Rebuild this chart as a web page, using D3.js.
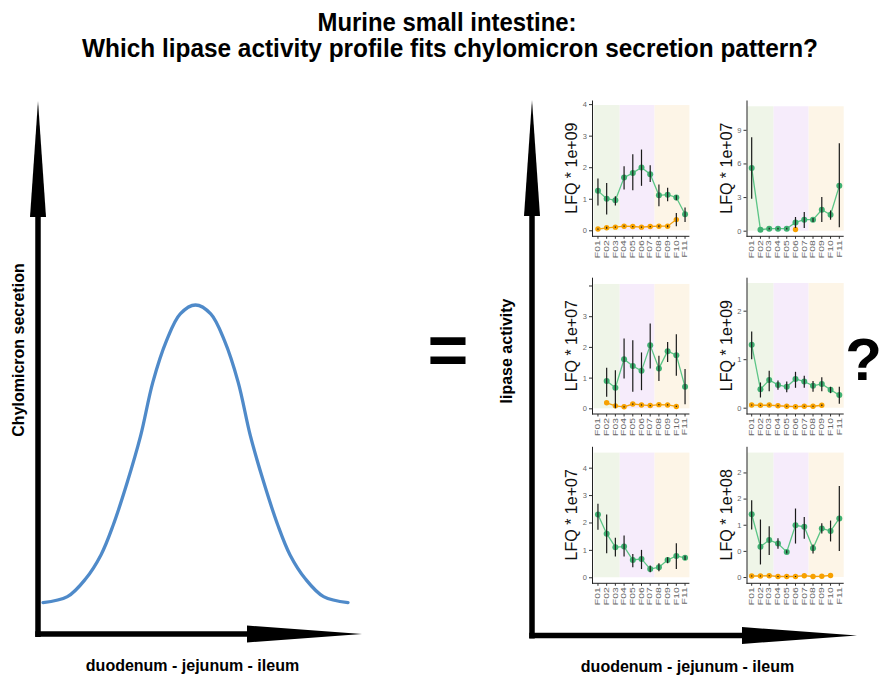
<!DOCTYPE html>
<meta charset="utf-8">
<style>

body {
    margin: 0;
    background: #fff;
}

svg {
    font-family: "Liberation Sans", Arial, Helvetica, sans-serif;
}

.title {
    font-family: "Liberation Sans Narrow", "Arial Narrow", "Liberation Sans", Arial, sans-serif;
    font-weight: bold;
    font-size: 25px;
}

.big-label {
    font-weight: bold;
    font-size: 16px;
}

.panel .domain {
    stroke: #222;
}

.panel .tick line {
    stroke: #333;
}

.panel .tick text {
    fill: #666;
}

</style>
<body>
<svg width="883" height="675"></svg>

<script src="https://d3js.org/d3.v7.min.js"></script>
<script>

// fractions along the gut, F01 = duodenum ... F11 = ileum
var fractions = ["F01","F02","F03","F04","F05","F06","F07","F08","F09","F10","F11"];
var regionStart = ["F01","F04","F08"];
var regionEnd   = ["F03","F07","F11"];

// schematic chylomicron curve (position along gut %, secretion %)
var gutPosition    = [0, 8, 14, 19, 23, 27.5, 32, 36, 40.5, 45, 50, 55, 59.5, 64, 68, 72.5, 77, 81, 86, 92, 100];
var secretionLevel = [0, 2,  8, 16, 26, 40,   56, 74, 88,   97, 100, 97, 88,  74, 56, 40,  26, 16, 8,  2,  0];

// one entry per small panel (top-left, top-right, mid-left, ...)
var panelExponent = ["1e+09", "1e+07", "1e+07", "1e+09", "1e+07", "1e+08"];
var panelYMin     = [-0.19, -0.5, -0.185, -0.13, -0.22, -0.12];
var panelYMax     = [4.13, 11.66, 4.27, 2.69, 4.78, 2.5];
var panelShadeTop = [3.97, 11.1, 4.05, 2.57, 4.55, 2.38];
var panelTicks = [[0,1,2,3,4], [0,3,6,9], [0,1,2,3,4], [0,1,2], [0,1,2,3,4], [0,0.5,1,1.5,2]];
var panelTickLabels = [["0","1","2","3","4"], ["0","3","6","9"], ["0","1","2","3",""],
                       ["0","1","2"], ["0","1","2","3","4"], ["0","0","1","2","2"]];

// [mean, low, high] per fraction, null = not detected
var p1Green  = [[1.25,0.79,1.64],[1.0,0.5,1.5],[0.95,0.79,1.08],[1.67,1.29,2.03],[1.82,1.27,2.41],[1.99,1.41,2.56],
                [1.78,1.53,2.06],[1.11,0.76,1.45],[1.13,0.92,1.35],[1.04,0.95,1.11],[0.51,0.26,0.72]];
var p1Orange = [[0.04,0.02,0.06],[0.08,0.05,0.11],[0.1,0.08,0.12],[0.13,0.11,0.15],[0.12,0.1,0.14],[0.1,0.08,0.12],
                [0.12,0.1,0.14],[0.13,0.1,0.16],[0.13,0.1,0.16],[0.34,0.13,0.55],null];

var p2Green  = [[5.6,2.85,8.34],[0.09,0.09,0.09],[0.18,0.1,0.26],[0.18,0.1,0.26],[0.18,0.1,0.26],[0.74,0.24,1.22],
                [0.98,0.24,1.66],[0.98,0.77,1.13],[1.87,0.77,3.0],[1.42,0.98,1.81],[4.0,0.3,7.8]];
var p2Orange = [null,null,null,null,null,[0.1,0.1,0.1],null,null,null,null,null];

var p3Green  = [null,[0.89,0.38,1.32],[0.67,0.0,1.24],[1.6,0.97,2.27],[1.38,0.54,2.22],[1.22,0.59,1.82],
                [2.05,1.3,2.76],[1.3,0.89,1.71],[1.86,1.51,2.16],[1.73,1.06,2.41],[0.7,0.13,1.28]];
var p3Orange = [null,[0.18,0.18,0.18],[0.08,0.06,0.1],[0.05,0.03,0.07],[0.14,0.12,0.16],[0.11,0.09,0.13],
                [0.09,0.07,0.11],[0.12,0.1,0.14],[0.11,0.09,0.13],[0.06,0.04,0.08],null];

var p4Green  = [[1.3,1.0,1.57],[0.38,0.21,0.52],[0.57,0.34,0.76],[0.47,0.37,0.56],[0.43,0.32,0.54],[0.59,0.41,0.74],
                [0.54,0.41,0.66],[0.45,0.33,0.55],[0.49,0.34,0.63],[0.37,0.3,0.43],[0.26,0.08,0.43]];
var p4Orange = [[0.055,0.045,0.065],[0.05,0.04,0.06],[0.055,0.045,0.065],[0.04,0.03,0.05],[0.03,0.02,0.04],
                [0.02,0.01,0.03],[0.03,0.02,0.04],[0.03,0.02,0.04],[0.05,0.035,0.065],null,null];

var p5Green  = [[2.29,1.73,2.68],[1.59,0.88,2.29],[1.1,0.76,1.44],[1.12,0.76,1.52],[0.63,0.37,0.85],[0.67,0.3,1.0],
                [0.3,0.18,0.43],[0.37,0.22,0.51],[0.63,0.51,0.73],[0.78,0.3,1.24],[0.71,0.63,0.79]];
var p5Orange = [null,null,null,null,null,null,null,null,null,null,null];

var p6Green  = [[1.2,0.91,1.47],[0.58,0.24,1.1],[0.71,0.42,0.97],[0.64,0.54,0.74],[0.48,0.45,0.51],[0.99,0.64,1.31],
                [0.96,0.73,1.15],[0.55,0.45,0.62],[0.93,0.83,1.03],[0.88,0.68,1.08],[1.12,0.5,1.74]];
var p6Orange = [[0.02,0.01,0.03],[0.02,0.01,0.03],[0.025,0.015,0.035],[0.01,0.0,0.02],[0.01,0.0,0.02],
                [0.01,0.0,0.02],[0.025,0.025,0.025],[0.01,0.01,0.01],[0.015,0.015,0.015],[0.03,0.03,0.03],null];

var greenSeries  = [p1Green, p2Green, p3Green, p4Green, p5Green, p6Green];
var orangeSeries = [p1Orange, p2Orange, p3Orange, p4Orange, p5Orange, p6Orange];

var regionColor = ["#eff5e8", "#f6ecfb", "#fdf5e7"];
var seriesStyle = {
    green:  { line: "#5cc586", point: "#3fb072", r: 3 },
    orange: { line: "#f5a30c", point: "#f7a100", r: 2.7 }
};

var svg = d3.select("svg");

/********************************
 * TITLE
 ********************************/
svg.append("text").attr("class", "title")
    .attr("x", 447).attr("y", 31)
    .attr("text-anchor", "middle")
    .attr("textLength", 259).attr("lengthAdjust", "spacingAndGlyphs")
    .text("Murine small intestine:");

svg.append("text").attr("class", "title")
    .attr("x", 450).attr("y", 57)
    .attr("text-anchor", "middle")
    .attr("textLength", 736).attr("lengthAdjust", "spacingAndGlyphs")
    .text("Which lipase activity profile fits chylomicron secretion pattern?");

/********************************
 * ARROW AXES
 ********************************/
function arrow(x0, y0, x1, y1, headLen, headHalf, width) {
    var len = Math.hypot(x1 - x0, y1 - y0),
        ux = (x1 - x0) / len, uy = (y1 - y0) / len,
        bx = x1 - ux * headLen, by = y1 - uy * headLen;
    svg.append("line")
        .attr("x1", x0).attr("y1", y0)
        .attr("x2", bx + ux).attr("y2", by + uy)
        .attr("stroke", "#000").attr("stroke-width", width);
    svg.append("path")
        .attr("d", "M" + x1 + "," + y1 +
                   "L" + (bx - uy * headHalf) + "," + (by + ux * headHalf) +
                   "L" + (bx + uy * headHalf) + "," + (by - ux * headHalf) + "Z")
        .attr("fill", "#000");
}

// left: chylomicron schematic
arrow(38, 637, 38, 101, 116, 8, 5.5);
arrow(35.25, 634, 362, 634, 115, 8.5, 5.5);
// right: lipase activity
arrow(532, 638.5, 532, 100, 116, 8, 5.5);
arrow(529.25, 635.5, 857, 635.5, 115, 8.5, 5.5);

svg.append("text").attr("class", "big-label")
    .attr("transform", "translate(24,350) rotate(-90)")
    .attr("text-anchor", "middle")
    .text("Chylomicron secretion");

svg.append("text").attr("class", "big-label")
    .attr("transform", "translate(512,351) rotate(-90)")
    .attr("text-anchor", "middle")
    .text("lipase activity");

svg.append("text").attr("class", "big-label")
    .attr("x", 192.5).attr("y", 671)
    .attr("text-anchor", "middle")
    .text("duodenum - jejunum - ileum");

svg.append("text").attr("class", "big-label")
    .attr("x", 687.5).attr("y", 672)
    .attr("text-anchor", "middle")
    .text("duodenum - jejunum - ileum");

svg.append("text")
    .attr("x", 448).attr("y", 374)
    .attr("text-anchor", "middle")
    .style("font-weight", "bold").style("font-size", "70px")
    .text("=");

svg.append("text")
    .attr("x", 882).attr("y", 380)
    .attr("text-anchor", "end")
    .style("font-weight", "bold").style("font-size", "60px")
    .text("?");

/********************************
 * SCHEMATIC CURVE
 ********************************/
var cx = d3.scaleLinear().domain([0, 100]).range([43, 348]),
    cy = d3.scaleLinear().domain([0, 100]).range([602.6, 305]);

svg.append("path")
    .datum(d3.range(gutPosition.length))
    .attr("fill", "none")
    .attr("stroke", "#4f8ac9")
    .attr("stroke-width", 3.3)
    .attr("stroke-linecap", "round")
    .attr("d", d3.line()
        .curve(d3.curveCatmullRom)
        .x(function(i) { return cx(gutPosition[i]); })
        .y(function(i) { return cy(secretionLevel[i]); }));

/********************************
 * SMALL PANELS
 ********************************/
var colAxisX = [592, 746.5],
    colBand  = [[593.6, 689.4], [747.3, 843.7]],
    rowRange = [[236.3, 100], [414, 277.2], [583.3, 446.3]];

greenSeries.forEach(function(green, i) {
    var col = i % 2, row = Math.floor(i / 2);

    var x = d3.scaleBand().domain(fractions).range(colBand[col]);
    var y = d3.scaleLinear().domain([panelYMin[i], panelYMax[i]]).range(rowRange[row]);
    var cxp = function(f) { return x(f) + x.bandwidth() / 2; };

    var g = svg.append("g").attr("class", "panel");

    // gut region shading
    g.selectAll("rect")
        .data(d3.range(regionStart.length))
        .enter().append("rect")
        .attr("x", function(r) { return x(regionStart[r]); })
        .attr("width", function(r) { return x(regionEnd[r]) + x.bandwidth() - x(regionStart[r]); })
        .attr("y", y(panelShadeTop[i]))
        .attr("height", y(0) - y(panelShadeTop[i]))
        .attr("fill", function(r) { return regionColor[r]; });

    var layers = [["green", green], ["orange", orangeSeries[i]]];

    layers.forEach(function(layer) {
        var st = seriesStyle[layer[0]];
        var pts = layer[1].map(function(d, j) {
            return d ? { f: fractions[j], m: d[0], lo: d[1], hi: d[2] } : null;
        });
        g.append("path")
            .datum(pts)
            .attr("fill", "none")
            .attr("stroke", st.line)
            .attr("stroke-width", 1.3)
            .attr("d", d3.line()
                .defined(function(d) { return d; })
                .x(function(d) { return cxp(d.f); })
                .y(function(d) { return y(d.m); }));
        g.append("g").selectAll("circle")
            .data(pts.filter(function(d) { return d; }))
            .enter().append("circle")
            .attr("cx", function(d) { return cxp(d.f); })
            .attr("cy", function(d) { return y(d.m); })
            .attr("r", st.r)
            .attr("fill", st.point);
    });

    // error bars on top
    layers.forEach(function(layer) {
        g.append("g").selectAll("line")
            .data(layer[1].map(function(d, j) { return d ? { f: fractions[j], lo: d[1], hi: d[2] } : null; })
                .filter(function(d) { return d && d.hi > d.lo; }))
            .enter().append("line")
            .attr("x1", function(d) { return cxp(d.f); })
            .attr("x2", function(d) { return cxp(d.f); })
            .attr("y1", function(d) { return y(d.lo); })
            .attr("y2", function(d) { return y(d.hi); })
            .attr("stroke", "#1a1a1a")
            .attr("stroke-width", 1.2);
    });

    // y axis
    var yAxis = g.append("g")
        .attr("transform", "translate(" + colAxisX[col] + ",0)")
        .call(d3.axisLeft(y)
            .tickValues(panelTicks[i])
            .tickFormat(function(d, k) { return panelTickLabels[i][k]; })
            .tickSize(3).tickSizeOuter(0).tickPadding(2));
    yAxis.selectAll("text").style("font-size", "7.5px");

    // x axis
    var xAxis = g.append("g")
        .attr("transform", "translate(0," + rowRange[row][0] + ")")
        .call(d3.axisBottom(x).tickSize(2.5).tickSizeOuter(0));
    xAxis.select(".domain").remove();
    xAxis.selectAll("text")
        .attr("x", 0).attr("y", 0).attr("dy", "0.35em")
        .attr("text-anchor", "end")
        .attr("transform", "translate(0,4) rotate(-90) scale(1.6,1)")
        .style("font-size", "6.5px");

    g.append("line")
        .attr("x1", colAxisX[col]).attr("x2", colBand[col][1])
        .attr("y1", rowRange[row][0]).attr("y2", rowRange[row][0])
        .attr("stroke", "#222");

    // LFQ axis title
    g.append("text")
        .attr("transform", "translate(" + (colAxisX[col] - 15) + "," +
              ((rowRange[row][0] + rowRange[row][1]) / 2) + ") rotate(-90)")
        .attr("text-anchor", "middle")
        .style("font-size", "16px")
        .attr("fill", "#111")
        .text("LFQ * " + panelExponent[i]);
});

</script>
</body>
